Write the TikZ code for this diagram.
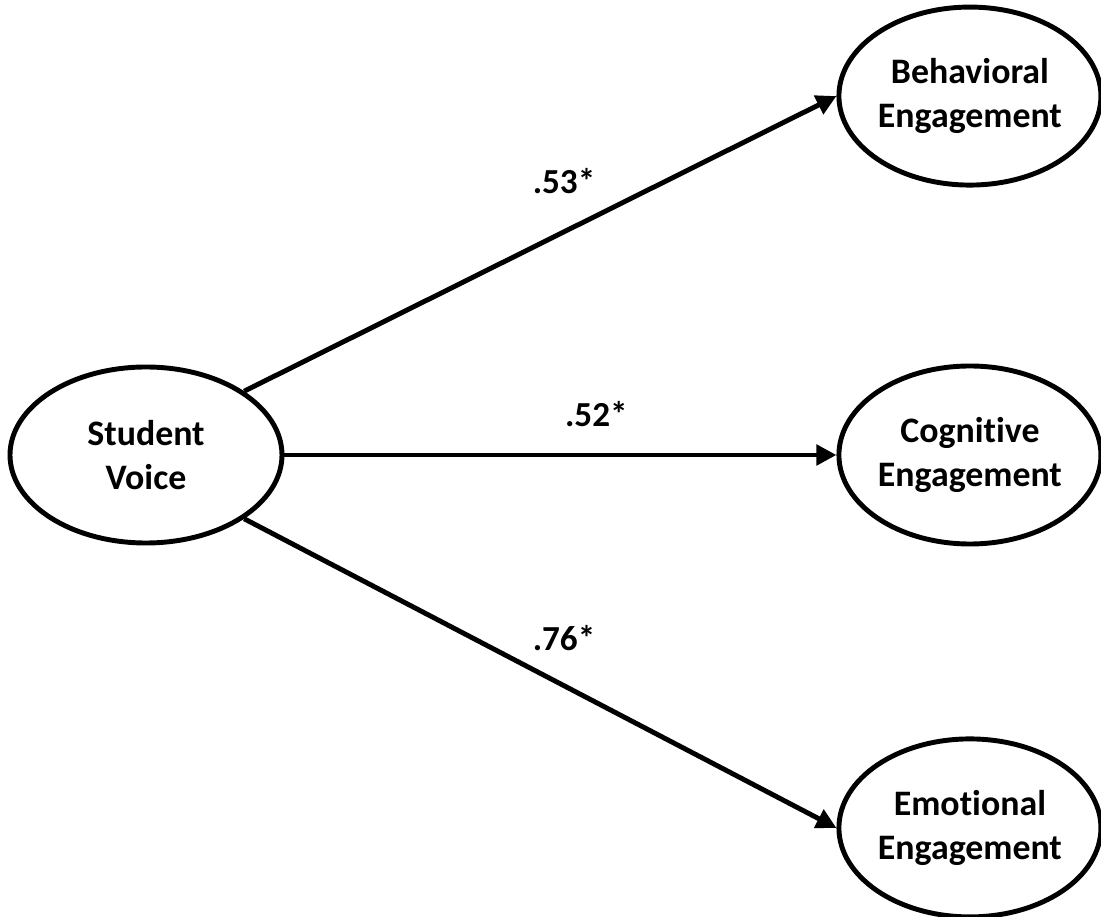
\documentclass[tikz,border=0pt]{standalone}
\usepackage{fontspec}
\setmainfont{Carlito}[Ligatures=NoCommon]
\usepackage{tikz}
\usetikzlibrary{shapes.geometric, arrows.meta, positioning}

\begin{document}
\begin{tikzpicture}[
    node distance=4.5cm,
    latent/.style={ellipse, draw, line width=3.5pt, minimum width=6.55cm, minimum height=4.45cm,
                   inner sep=0pt, align=center, font=\fontsize{25.5}{31.5}\selectfont\bfseries},
    path_arrow/.style={-{Triangle[length=0.5cm, width=0.5cm]}, line width=3.5pt},
    coef/.style={font=\fontsize{25}{30}\selectfont\bfseries}
]

% Page frame
\useasboundingbox (-3.65,-11.55) rectangle (23.875,11.375);

% Predictor
\node[latent, minimum width=6.8cm, minimum height=4.4cm] (voice) {Student\\Voice};

% Outcomes
\node[latent, right=13.8cm of voice] (cognitive) {Cognitive\\Engagement};
\node[latent, above=4.4cm of cognitive] (behavioral) {Behavioral\\Engagement};
\node[latent, below=4.75cm of cognitive] (emotional) {Emotional\\Engagement};

% Paths
\draw[path_arrow] (voice.33) -- node[coef, pos=0.54, yshift=1.28cm]{.53*} (behavioral.west);
\draw[path_arrow] (voice.east) -- node[coef, pos=0.565, yshift=1.02cm]{.52*} (cognitive.west);
\draw[path_arrow] (voice.-33) -- node[coef, pos=0.54, yshift=1.2cm]{.76*} (emotional.west);

\end{tikzpicture}
\end{document}
